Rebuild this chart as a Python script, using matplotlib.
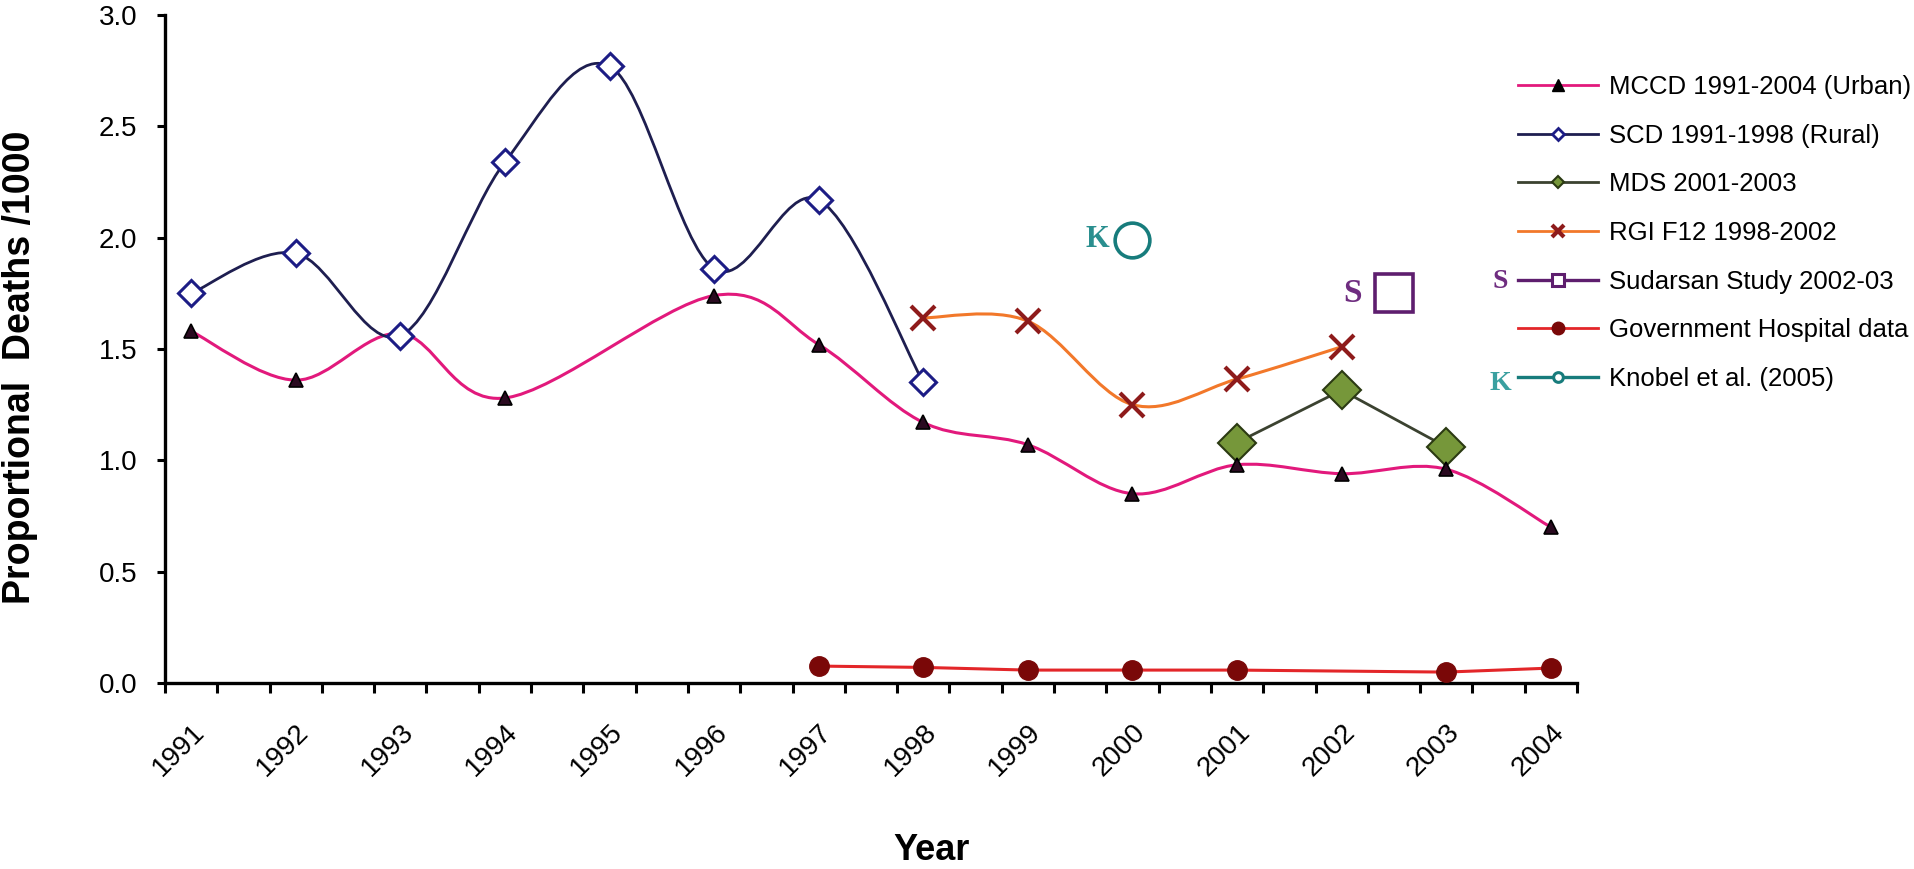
import numpy as np
import matplotlib
matplotlib.use("Agg")
import matplotlib.pyplot as plt
import matplotlib.transforms as mtransforms
from matplotlib.path import Path
from matplotlib.patches import PathPatch
from matplotlib.lines import Line2D
from matplotlib.ticker import FixedLocator, FormatStrFormatter

plt.rcParams['font.family'] = ['Liberation Sans', 'DejaVu Sans']

nan = np.nan

# categories (years)
years = ['1991', '1992', '1993', '1994', '1995', '1996', '1997',
         '1998', '1999', '2000', '2001', '2002', '2003', '2004']

# series values (proportional deaths per 1000)
mccd = [1.58, 1.36, 1.57, 1.28, nan, 1.74, 1.52, 1.17, 1.07, 0.85, 0.98, 0.94, 0.96, 0.70]
scd = [1.75, 1.93, 1.56, 2.34, 2.77, 1.86, 2.17, 1.35, nan, nan, nan, nan, nan, nan]
mds = [nan, nan, nan, nan, nan, nan, nan, nan, nan, nan, 1.08, 1.315, 1.06, nan]
rgi = [nan, nan, nan, nan, nan, nan, nan, 1.64, 1.625, 1.25, 1.365, 1.51, nan, nan]
gov = [nan, nan, nan, nan, nan, nan, 0.076, 0.07, 0.058, 0.058, 0.058, nan, 0.049, 0.067]

# single-point studies
sudarsan_years = ('2002', '2003')
sudarsan_value = 1.75
knobel_year = '2000'
knobel_value = 1.99

labels = ['MCCD 1991-2004 (Urban)', 'SCD 1991-1998 (Rural)', 'MDS 2001-2003',
          'RGI F12 1998-2002', 'Sudarsan Study 2002-03', 'Government Hospital data',
          'Knobel et al. (2005)']

x = np.arange(len(years))


def valid(vals):
    v = np.array(vals, dtype=float)
    m = ~np.isnan(v)
    return x[m].astype(float), v[m]


def smooth_path(vals):
    # Excel style smoothed line (Catmull-Rom as cubic Bezier)
    xs, ys = valid(vals)
    pts = np.column_stack([xs, ys])
    verts = [pts[0]]
    codes = [Path.MOVETO]
    n = len(pts)
    for i in range(n - 1):
        p0 = pts[i - 1] if i > 0 else pts[i]
        p1 = pts[i]
        p2 = pts[i + 1]
        p3 = pts[i + 2] if i + 2 < n else pts[i + 1]
        c1 = p1 + (p2 - p0) / 6.0
        c2 = p2 - (p3 - p1) / 6.0
        verts += [c1, c2, p2]
        codes += [Path.CURVE4] * 3
    return Path(verts, codes)


fig = plt.figure(figsize=(19.15, 8.69), dpi=100)
ax = fig.add_axes([165 / 1915, 1 - 683 / 869, (1577 - 165) / 1915, (683 - 15) / 869])

c_mccd = '#E2197C'
c_scd_line = '#1E1E50'
c_scd_mk = '#1C1C85'
c_mds_line = '#3B4230'
c_mds_fill = '#76973A'
c_mds_edge = '#2B3A12'
c_rgi_line = '#F2782A'
c_rgi_mk = '#8E1B1B'
c_sud = '#5E1E6E'
c_gov_line = '#E32629'
c_gov_mk = '#7A0808'
c_kno = '#177C7C'

# MCCD
ax.add_patch(PathPatch(smooth_path(mccd), fill=False, edgecolor=c_mccd, lw=2.2, zorder=2))
xs, ys = valid(mccd)
ax.plot(xs, ys, ls='none', marker='^', ms=10, mfc='#2A0A20', mec='black', mew=1.2, zorder=5)

# SCD
ax.add_patch(PathPatch(smooth_path(scd), fill=False, edgecolor=c_scd_line, lw=2.0, zorder=2))
xs, ys = valid(scd)
ax.plot(xs, ys, ls='none', marker='D', ms=13, mfc='white', mec=c_scd_mk, mew=2.2, zorder=5)

# MDS (straight segments)
xs, ys = valid(mds)
ax.plot(xs, ys, color=c_mds_line, lw=2.0, marker='D', ms=19, mfc=c_mds_fill,
        mec=c_mds_edge, mew=1.5, zorder=4)

# RGI F12
ax.add_patch(PathPatch(smooth_path(rgi), fill=False, edgecolor=c_rgi_line, lw=2.2, zorder=2))
xs, ys = valid(rgi)
ax.plot(xs, ys, ls='none', marker='x', ms=17, mec=c_rgi_mk, mew=3, zorder=5)

# Government hospital
xs, ys = valid(gov)
ax.plot(xs, ys, color=c_gov_line, lw=2.2, marker='o', ms=14, mfc=c_gov_mk, mec=c_gov_mk, zorder=4)

# Sudarsan study
sx = (years.index(sudarsan_years[0]) + years.index(sudarsan_years[1])) / 2
ax.plot([sx], [sudarsan_value], ls='none', marker='s', ms=28, mfc='white', mec=c_sud, mew=2.6, zorder=5)
ax.annotate('S', (sx, sudarsan_value), xytext=(-30, 0), textcoords='offset points',
            ha='center', va='center', fontsize=24, color='#6F2D80', fontweight='bold',
            family='Liberation Serif')

# Knobel et al.
kx = years.index(knobel_year)
ax.plot([kx], [knobel_value], ls='none', marker='o', ms=25, mfc='white', mec=c_kno, mew=2.6, zorder=5)
ax.annotate('K', (kx, knobel_value), xytext=(-25, 0), textcoords='offset points',
            ha='center', va='center', fontsize=22, color='#2A8F8F', fontweight='bold',
            family='Liberation Serif')

# axes
ax.set_xlim(-0.25, len(years) - 0.75)
ax.set_ylim(0, 3.0)
ax.set_yticks(np.arange(0, 3.01, 0.5))
ax.yaxis.set_major_formatter(FormatStrFormatter('%.1f'))
ax.set_xticks(x)
ax.set_xticklabels(years, rotation=45, ha='right', rotation_mode='anchor')
shift = mtransforms.ScaledTranslation(-11 / 100, 0, fig.dpi_scale_trans)
for lab in ax.get_xticklabels():
    lab.set_transform(lab.get_transform() + shift)
ax.xaxis.set_minor_locator(FixedLocator(np.arange(-0.25, len(years) - 0.7, 0.5)))
ax.tick_params(axis='x', which='major', length=0, pad=26, labelsize=20)
ax.tick_params(axis='x', which='minor', length=7, width=2.2, direction='out')
ax.tick_params(axis='y', which='major', length=6, width=2.2, direction='out', pad=14, labelsize=20)
for s in ['top', 'right']:
    ax.spines[s].set_visible(False)
for s in ['left', 'bottom']:
    ax.spines[s].set_linewidth(2.4)

fig.text(20 / 1915, 1 - 367 / 869, 'Proportional  Deaths /1000', rotation=90,
         ha='center', va='center', fontsize=27, fontweight='bold')
fig.text(932 / 1915, 1 - 850 / 869, 'Year', ha='center', va='center',
         fontsize=26, fontweight='bold')

# legend
handles = [
    Line2D([], [], color=c_mccd, lw=2, marker='^', ms=8, mfc='black', mec='black'),
    Line2D([], [], color=c_scd_line, lw=2, marker='D', ms=6, mfc='white', mec=c_scd_mk, mew=2),
    Line2D([], [], color=c_mds_line, lw=2, marker='D', ms=6, mfc=c_mds_fill, mec=c_mds_edge, mew=1.5),
    Line2D([], [], color=c_rgi_line, lw=2, marker='x', ms=8, mec=c_rgi_mk, mew=3),
    Line2D([], [], color=c_sud, lw=2.4, marker='s', ms=8, mfc='white', mec=c_sud, mew=2.2),
    Line2D([], [], color=c_gov_line, lw=2, marker='o', ms=9, mfc=c_gov_mk, mec=c_gov_mk),
    Line2D([], [], color=c_kno, lw=2.4, marker='o', ms=7, mfc='white', mec=c_kno, mew=2.2),
]
leg = fig.legend(handles, labels, loc='upper left', bbox_to_anchor=(1518 / 1915, 1 - 75 / 869),
                 frameon=False, fontsize=18.5, handlelength=3.1, handletextpad=0.45,
                 labelspacing=0.96, borderpad=0, borderaxespad=0)

fig.text(1500 / 1915, 1 - 282 / 869, 'S', ha='center', va='center', fontsize=20,
         color='#6F2D80', fontweight='bold', family='Liberation Serif')
fig.text(1500 / 1915, 1 - 383 / 869, 'K', ha='center', va='center', fontsize=20,
         color='#3AA0A0', fontweight='bold', family='Liberation Serif')

fig.savefig('out.png', dpi=100)
